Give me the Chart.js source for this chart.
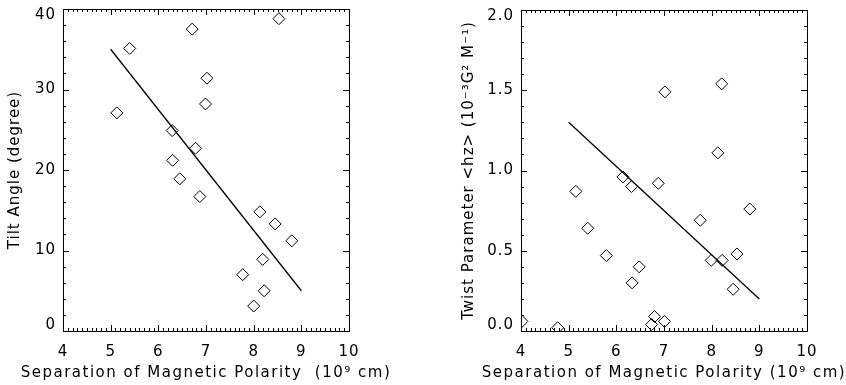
<!DOCTYPE html>
<html lang="en">
<head>
<meta charset="UTF-8" />
<title>Tilt Angle and Twist vs Separation</title>
<style>
  body { margin: 0; background: white; }
  .row { display: flex; width: 846px; height: 385px; }
  .panel { width: 423px; height: 385px; }
</style>
<script src="https://cdn.jsdelivr.net/npm/chart.js@4"></script>
</head>
<body>
<div class="row">
  <div class="panel"><canvas id="tiltChart" width="423" height="385"></canvas></div>
  <div class="panel"><canvas id="twistChart" width="423" height="385"></canvas></div>
</div>
<script>
// left panel - tilt angle vs separation
const tiltSep   = [5.13, 5.40, 6.71, 8.53, 7.02, 6.99, 6.29, 6.78, 6.30, 6.45, 6.87, 8.13, 8.45, 8.80, 8.19, 7.77, 8.22, 8.00];
const tiltAngle = [27.1, 35.1, 37.5, 38.8, 31.4, 28.2, 24.9, 22.7, 21.2, 18.9, 16.7, 14.8, 13.3, 11.2, 8.9, 7.0, 5.0, 3.1];
const tiltFitX  = [5, 9];
const tiltFitY  = [35.0, 5.0];

// right panel - twist parameter vs separation
const twistSep = [4.02, 4.77, 5.15, 5.40, 5.79, 6.14, 6.32, 6.33, 6.48, 6.74, 6.80, 6.88, 7.01, 7.02, 7.76, 7.99, 8.13, 8.21, 8.22, 8.45, 8.53, 8.80];
const twistHz  = [0.06, 0.02, 0.87, 0.64, 0.47, 0.96, 0.90, 0.30, 0.40, 0.04, 0.09, 0.92, 0.06, 1.49, 0.69, 0.44, 1.11, 1.54, 0.44, 0.26, 0.48, 0.76];
const twistFitX = [5, 9];
const twistFitY = [1.30, 0.20];

const sepRange = [4, 10];
const tiltRange = [0, 40];
const twistRange = [0, 2];

Chart.defaults.font.family = "'DejaVu Sans', sans-serif";
Chart.defaults.font.size = 15;
Chart.defaults.color = "#000";

function toPoints(xs, ys) {
  return xs.map((x, i) => ({ x: x, y: ys[i] }));
}

// box around the plot, inward ticks on all four sides, y labels kept inside the box ends (IDL style)
const frameTicks = {
  id: "frameTicks",
  beforeDraw(chart) {
    chart.ctx.letterSpacing = "1px";
  },
  afterDraw(chart, args, opts) {
    const ctx = chart.ctx;
    const a = chart.chartArea;
    const xs = chart.scales.x, ys = chart.scales.y;
    ctx.save();
    ctx.strokeStyle = "#000";
    ctx.lineWidth = 1;
    ctx.strokeRect(Math.round(a.left) + 0.5, Math.round(a.top) + 0.5,
                   Math.round(a.right - a.left), Math.round(a.bottom - a.top));
    ctx.beginPath();
    const nx = Math.round((xs.max - xs.min) / opts.xMinor);
    for (let i = 0; i <= nx; i++) {
      const v = xs.min + i * opts.xMinor;
      const major = Math.abs(v / opts.xMajor - Math.round(v / opts.xMajor)) < 1e-6;
      const len = major ? 6 : 3;
      const px = Math.round(xs.getPixelForValue(v)) + 0.5;
      ctx.moveTo(px, a.bottom); ctx.lineTo(px, a.bottom - len);
      ctx.moveTo(px, a.top); ctx.lineTo(px, a.top + len);
    }
    const ny = Math.round((ys.max - ys.min) / opts.yMinor);
    for (let i = 0; i <= ny; i++) {
      const v = ys.min + i * opts.yMinor;
      const major = Math.abs(v / opts.yMajor - Math.round(v / opts.yMajor)) < 1e-6;
      const len = major ? 6 : 3;
      const py = Math.round(ys.getPixelForValue(v)) + 0.5;
      ctx.moveTo(a.left, py); ctx.lineTo(a.left + len, py);
      ctx.moveTo(a.right, py); ctx.lineTo(a.right - len, py);
    }
    ctx.stroke();

    // y tick labels
    ctx.fillStyle = "#000";
    ctx.font = "15px 'DejaVu Sans', sans-serif";
    ctx.letterSpacing = "1px";
    ctx.textAlign = "right";
    ctx.textBaseline = "middle";
    ys.ticks.forEach(t => {
      let py = ys.getPixelForValue(t.value);
      py = Math.min(Math.max(py, a.top + 6), a.bottom - 6);
      ctx.fillText(opts.yFmt(t.value), a.left - 7, py);
    });

    // x title, wider than the plot box so drawn here instead of by the scale
    ctx.letterSpacing = "1.5px";
    ctx.textAlign = "center";
    ctx.fillText(opts.xTitle, (a.left + a.right) / 2, 373);
    ctx.restore();
  }
};

function makePanel(id, opt) {
  const ctx = document.getElementById(id).getContext("2d");
  return new Chart(ctx, {
    type: "scatter",
    data: {
      datasets: [
        {
          data: toPoints(opt.xs, opt.ys),
          pointStyle: "rectRot",
          pointRadius: 6,
          borderColor: "#000",
          borderWidth: 1,
          backgroundColor: "rgba(0,0,0,0)",
          clip: 0
        },
        {
          type: "line",
          data: toPoints(opt.fitX, opt.fitY),
          borderColor: "#000",
          borderWidth: 1.3,
          pointRadius: 0,
          fill: false
        }
      ]
    },
    options: {
      responsive: false,
      animation: false,
      layout: { padding: { top: opt.top, right: opt.right, left: 0, bottom: 0 } },
      plugins: {
        legend: { display: false },
        tooltip: { enabled: false },
        frameTicks: { xMinor: 0.1, xMajor: 1, yMinor: opt.yMinor, yMajor: opt.yMajor,
                      yFmt: opt.yFmt, xTitle: opt.xTitle }
      },
      scales: {
        x: {
          type: "linear",
          min: sepRange[0], max: sepRange[1],
          grid: { display: false, drawTicks: false },
          border: { display: false },
          ticks: { stepSize: 1, padding: 12, maxRotation: 0 },
          afterFit: s => { s.height = 54; }
        },
        y: {
          min: opt.yRange[0], max: opt.yRange[1],
          grid: { display: false, drawTicks: false },
          border: { display: false },
          ticks: { stepSize: opt.yMajor, display: false },
          title: { display: true, text: opt.yTitle, padding: { top: opt.titlePad, bottom: 0 } },
          afterFit: s => { s.width = opt.yWidth; }
        }
      }
    },
    plugins: [frameTicks]
  });
}

makePanel("tiltChart", {
  xs: tiltSep, ys: tiltAngle, fitX: tiltFitX, fitY: tiltFitY,
  yRange: tiltRange, yMajor: 10, yMinor: 2,
  yFmt: v => String(v),
  yTitle: "Tilt Angle (degree)",
  xTitle: "Separation of Magnetic Polarity  (10\u2079 cm)",
  yWidth: 63, top: 9, right: 74, titlePad: 6
});

makePanel("twistChart", {
  xs: twistSep, ys: twistHz, fitX: twistFitX, fitY: twistFitY,
  yRange: twistRange, yMajor: 0.5, yMinor: 0.1,
  yFmt: v => Number(v).toFixed(1),
  yTitle: "Twist Parameter <hz> (10\u207B\u00B3G\u00B2 M\u207B\u00B9)",
  xTitle: "Separation of Magnetic Polarity (10\u2079 cm)",
  yWidth: 98, top: 10, right: 39, titlePad: 37
});
</script>
</body>
</html>
